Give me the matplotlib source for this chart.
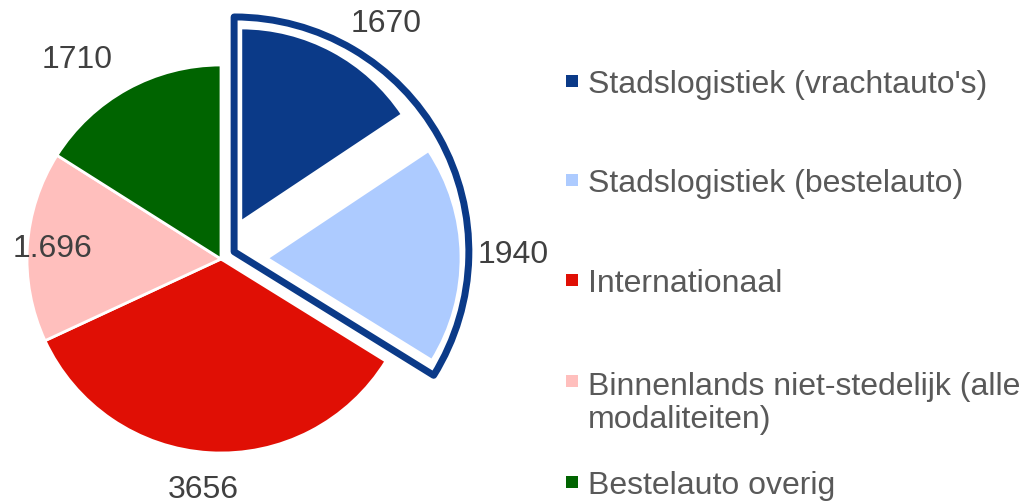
import numpy as np
import matplotlib.pyplot as plt
from matplotlib.patches import Wedge

plt.rcParams['font.family'] = ['Liberation Sans', 'DejaVu Sans']

# data
categories = ["Stadslogistiek (vrachtauto's)",
              "Stadslogistiek (bestelauto)",
              "Internationaal",
              "Binnenlands niet-stedelijk (alle\nmodaliteiten)",
              "Bestelauto overig"]
values = [1670, 1940, 3656, 1696, 1710]
value_labels = ["1670", "1940", "3656", "1.696", "1710"]
colors = ['#0B3A88', '#ADCBFF', '#E00F05', '#FFBFBD', '#006400']

# layout (pixel units, axes spans the whole figure)
W, H = 1022, 502
cx, cy, R = 221, 242, 194
explode = [42, 46, 0, 0, 0]
label_r = [1.27, 1.27, 1.19, 0.87, 1.27]
label_shift = [-8, 0, -1, 0, 7]

fig = plt.figure(figsize=(W / 100, H / 100), dpi=100)
ax = fig.add_axes([0, 0, 1, 1])

wedges, _ = ax.pie(values, startangle=90, counterclock=False, colors=colors,
                   radius=R, center=(cx, cy), explode=explode,
                   wedgeprops=dict(edgecolor='white', linewidth=2))

# outline around the two highlighted slices
frac = np.array(values) / sum(values)
t_end = 90 - 360 * (frac[0] + frac[1])
t_mid = np.deg2rad((90 + t_end) / 2)
ox, oy = cx + 15 * np.cos(t_mid), cy + 15 * np.sin(t_mid)
ax.add_patch(Wedge((ox, oy), R * 1.21, t_end, 90, facecolor='none',
                   edgecolor=colors[0], linewidth=5, joinstyle='round', zorder=0.5))

# value labels
for w, lab, rf, sh in zip(wedges, value_labels, label_r, label_shift):
    a = np.deg2rad((w.theta1 + w.theta2) / 2 + sh)
    x0, y0 = w.center
    ax.text(x0 + rf * R * np.cos(a), y0 + rf * R * np.sin(a), lab,
            ha='center', va='center', fontsize=23, color='#404040')

# legend drawn by hand; baseline of multi-line text sits on the last line
leg_y = [420, 321, 221, 120, 19]
line_h = 35
for lab, col, ly in zip(categories, colors, leg_y):
    ax.scatter([572], [ly], marker='s', s=72, color=col, linewidths=0)
    extra = lab.count('\n') * line_h
    ax.text(588, ly - 11 - extra, lab, ha='left', va='baseline', fontsize=23,
            color='#595959', linespacing=1.15)

ax.set_xlim(0, W)
ax.set_ylim(0, H)
ax.set_aspect('equal')
ax.axis('off')

fig.savefig('out.png', dpi=100)
